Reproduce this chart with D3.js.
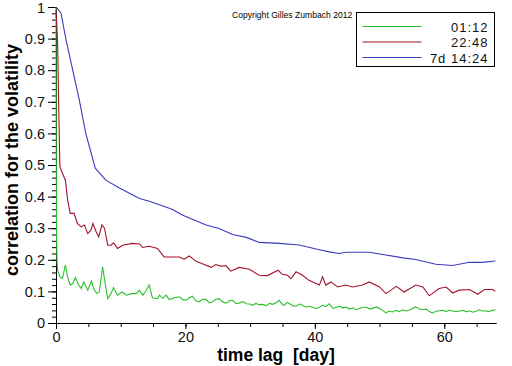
<!DOCTYPE html>
<html>
<head>
<meta charset="utf-8">
<script src="https://cdn.jsdelivr.net/npm/d3@7"></script>
<style>
    body { margin:0; background:white; }
    svg { display:block; font-family:"Liberation Sans", Arial, sans-serif; }
    .tick text { font-size:14.5px; fill:#111; }
    .domain, .tick line { stroke:#000; }
    .label { font-size:18px; font-weight:bold; }
</style>
</head>
<body>
<svg></svg>
<script>

// time lag in days and correlation values
var greenDays = [0,0.03,0.08,0.15,0.25,0.6,1.0,1.45,1.8,2.2,2.6,3.0,3.5,3.9,4.3,4.9,5.5,5.8,6.3,6.7,7.2,7.6,8.0,8.5,8.9,9.5,10.2,10.9,11.6,12.4,12.9,13.4,13.8,14.4,14.9,15.7,16.0,16.5,17.0,17.5,18.3,19.1,19.6,20.1,20.6,21.1,21.6,22.1,22.7,23.2,23.7,24.2,24.7,25.2,25.8,26.3,26.8,27.3,27.8,28.3,28.9,29.4,29.9,30.4,30.9,31.4,31.9,32.5,33.0,33.5,34.0,34.5,35.0,35.3,35.7,36.1,36.6,37.1,37.6,38.1,38.6,39.1,39.6,40.2,40.7,41.2,41.7,42.2,42.8,43.3,43.8,44.3,44.8,45.4,45.9,46.4,46.9,47.5,48.0,48.5,49.0,49.5,50.0,50.5,51.0,51.5,52.0,52.5,53.0,53.6,54.1,54.6,55.1,55.6,56.1,56.7,57.2,57.7,58.2,58.7,59.3,59.8,60.3,60.8,61.3,61.8,62.4,62.9,63.4,63.9,64.4,64.9,65.4,65.9,66.4,66.9,67.4,67.9];
var greenCorr = [1.0,0.6,0.28,0.2,0.167,0.146,0.141,0.183,0.146,0.12,0.125,0.144,0.12,0.109,0.130,0.104,0.133,0.109,0.093,0.098,0.178,0.125,0.077,0.093,0.112,0.088,0.098,0.088,0.093,0.093,0.104,0.088,0.098,0.12,0.08,0.077,0.088,0.078,0.088,0.074,0.08,0.083,0.074,0.072,0.08,0.085,0.07,0.067,0.076,0.074,0.064,0.067,0.075,0.077,0.066,0.063,0.07,0.072,0.062,0.063,0.068,0.061,0.06,0.056,0.062,0.058,0.059,0.055,0.062,0.059,0.064,0.072,0.058,0.056,0.065,0.061,0.055,0.053,0.06,0.056,0.05,0.053,0.05,0.046,0.05,0.056,0.052,0.061,0.046,0.05,0.053,0.048,0.05,0.044,0.048,0.042,0.046,0.05,0.05,0.044,0.047,0.051,0.046,0.040,0.032,0.038,0.035,0.040,0.036,0.042,0.038,0.041,0.046,0.051,0.045,0.042,0.044,0.036,0.032,0.037,0.039,0.040,0.036,0.041,0.038,0.036,0.038,0.040,0.036,0.038,0.034,0.037,0.042,0.038,0.038,0.036,0.04,0.042];

var redDays = [0,0.1,0.25,0.4,0.6,1.0,1.45,1.8,2.2,2.8,3.3,3.9,4.4,4.9,5.4,5.7,6.2,6.6,7.1,7.5,8.0,8.5,8.9,9.5,10.3,11.8,12.9,13.4,14.4,15.7,16.7,17.5,19.1,19.8,20.6,21.6,22.9,24.0,24.7,25.5,26.3,27.0,28.3,29.9,31.4,32.7,34.3,35.0,35.8,36.3,37.1,38.1,39.1,39.9,40.7,41.2,41.7,42.5,43.5,44.8,45.8,47.4,48.4,50.0,51.0,52.6,53.8,55.6,56.7,57.7,59.2,60.3,61.3,62.3,63.9,65.2,66.2,67.5,67.9];
var redCorr = [0.99,0.95,0.886,0.706,0.495,0.474,0.452,0.389,0.347,0.347,0.315,0.304,0.31,0.283,0.294,0.315,0.289,0.273,0.31,0.3,0.246,0.246,0.254,0.236,0.246,0.252,0.25,0.239,0.243,0.236,0.209,0.209,0.209,0.202,0.212,0.196,0.185,0.176,0.185,0.18,0.181,0.164,0.176,0.170,0.151,0.150,0.167,0.154,0.151,0.140,0.162,0.151,0.135,0.127,0.120,0.146,0.120,0.130,0.114,0.12,0.114,0.12,0.130,0.114,0.093,0.116,0.098,0.120,0.114,0.086,0.109,0.114,0.095,0.104,0.106,0.091,0.106,0.106,0.100];

var blueDays = [0,0.77,1.55,3.6,4.6,6.07,7.7,9.8,12.9,14.4,17.5,18.0,19.6,23.2,25.2,27.3,29.4,31.4,34.5,37.6,40.2,42.2,43.8,44.8,48.4,50.5,53.6,55.6,58.7,61.3,63.9,65.9,67.9];
var blueCorr = [1.0,0.981,0.896,0.706,0.60,0.49,0.452,0.427,0.394,0.385,0.363,0.359,0.341,0.310,0.299,0.280,0.271,0.255,0.252,0.247,0.234,0.225,0.220,0.224,0.224,0.217,0.206,0.201,0.186,0.182,0.192,0.192,0.196];

var legendLabels = ["01:12","22:48","7d 14:24"];
var lineColors = ["#2cbf2c","#a3122a","#3a3abf"];

var xMajorTicks = [0,20,40,60];
var yMajorTicks = [0,0.1,0.2,0.3,0.4,0.5,0.6,0.7,0.8,0.9,1];


var toPoints = function(days, corr)
{
    return days.map(function(d,i) { return {day:d, corr:corr[i]}; });
}

var initGraph = function()
{
    var screen = {width:512, height:366};
    var margins = {top:7, left:56, right:16, bottom:43};
    var graph =
    {
        width:screen.width-margins.left-margins.right,
        height:screen.height-margins.top-margins.bottom
    }

    var svg = d3.select("svg")
        .attr("width",screen.width)
        .attr("height",screen.height);

    var xScale = d3.scaleLinear()
        .domain([0,68])
        .range([margins.left, margins.left+graph.width]);

    var yScale = d3.scaleLinear()
        .domain([0,1])
        .range([margins.top+graph.height, margins.top]);

    var y0 = margins.top+graph.height;

    // minor ticks first, then the labelled ones
    svg.append("g")
        .attr("transform","translate(0,"+y0+")")
        .call(d3.axisBottom(xScale).tickValues(d3.range(0,68,5))
              .tickSize(4).tickSizeOuter(0).tickFormat(""));
    svg.append("g")
        .attr("transform","translate(0,"+y0+")")
        .call(d3.axisBottom(xScale).tickValues(xMajorTicks)
              .tickSize(6).tickSizeOuter(0).tickPadding(3));

    svg.append("g")
        .attr("transform","translate("+margins.left+",0)")
        .call(d3.axisLeft(yScale).tickValues(d3.range(0,51).map(function(i){return i/50;}))
              .tickSize(4).tickSizeOuter(0).tickFormat(""));
    var yAxis = svg.append("g")
        .attr("transform","translate("+margins.left+",0)")
        .call(d3.axisLeft(yScale).tickValues(yMajorTicks)
              .tickSize(8).tickSizeOuter(0).tickPadding(3)
              .tickFormat(d3.format("")));

    // keep the top label inside the picture
    yAxis.selectAll(".tick text")
        .filter(function(d) { return d == 1; })
        .attr("dy","0.38em");

    // series
    var lineGenerator = d3.line()
        .x(function(p) { return xScale(p.day); })
        .y(function(p) { return yScale(p.corr); });

    var series = [toPoints(greenDays,greenCorr),
                  toPoints(redDays,redCorr),
                  toPoints(blueDays,blueCorr)];

    svg.append("g")
        .selectAll("path")
        .data(series)
        .enter()
        .append("path")
        .attr("fill","none")
        .attr("stroke-width",1.1)
        .attr("stroke",function(s,i) { return lineColors[i]; })
        .attr("d",lineGenerator);

    // labels
    svg.append("text")
        .text("time lag  [day]")
        .classed("label",true)
        .attr("xml:space","preserve")
        .style("white-space","pre")
        .style("font-size","17.5px")
        .attr("text-anchor","middle")
        .attr("x",margins.left+graph.width/2)
        .attr("y",361);

    svg.append("text")
        .text("correlation for the volatility")
        .classed("label",true)
        .attr("text-anchor","middle")
        .attr("transform","translate(18,160) rotate(-90)");

    svg.append("text")
        .text("Copyright Gilles Zumbach 2012")
        .attr("x",232)
        .attr("y",18)
        .style("font-size","8.6px");

    // legend
    var legend = svg.append("g")
        .attr("transform","translate(356.5,12.5)");

    legend.append("rect")
        .attr("width",138)
        .attr("height",54)
        .attr("fill","white")
        .attr("stroke","black");

    var rows = legend.selectAll("g.row")
        .data(legendLabels)
        .enter()
        .append("g")
        .classed("row",true)
        .attr("transform",function(d,i) { return "translate(0,"+(14+i*15.5)+")"; });

    rows.append("line")
        .attr("x1",6).attr("x2",65)
        .attr("stroke-width",1)
        .attr("stroke",function(d,i) { return lineColors[i]; });

    rows.append("text")
        .text(function(d) { return d; })
        .attr("x",132)
        .attr("y",5)
        .attr("text-anchor","end")
        .style("font-size","13px")
        .style("letter-spacing","1px")
        .style("fill","#111");
}

initGraph();
</script>
</body>
</html>
